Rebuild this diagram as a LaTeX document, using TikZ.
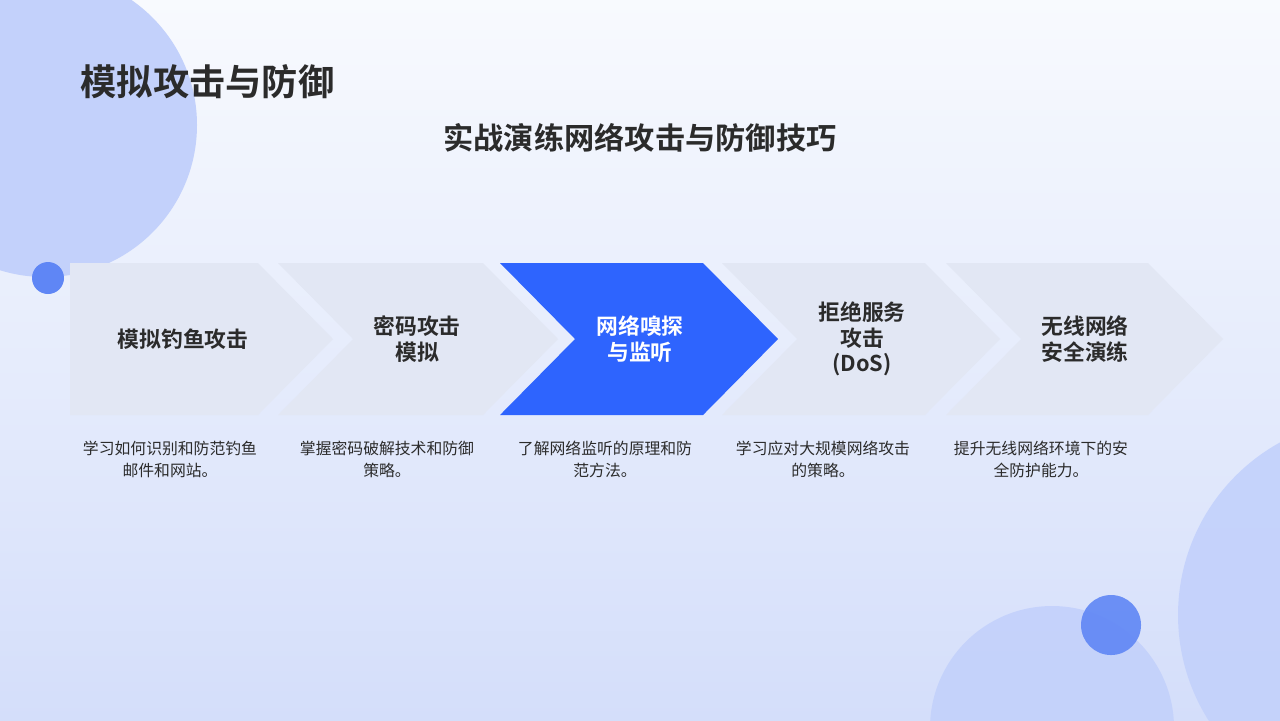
\documentclass[tikz,border=0pt]{standalone}
\usepackage{fontspec}
\setmainfont{Noto Sans CJK SC}
\newfontfamily\cjkbold{Noto Sans CJK SC Bold}
\usetikzlibrary{positioning}
\definecolor{bgtop}{HTML}{F8FAFE}
\definecolor{bgbot}{HTML}{D4DEFA}
\definecolor{blobc}{HTML}{C3D1FB}
\definecolor{dotc}{HTML}{5F86F5}
\definecolor{chevc}{HTML}{E2E7F4}
\definecolor{hotc}{HTML}{2E64FE}
\definecolor{inkc}{HTML}{2B2B2B}
\tikzset{
    steplabel/.style={font=\cjkbold\fontsize{6.2}{7.2}\selectfont, text=inkc, align=center},
    stepnote/.style={font=\fontsize{4.5}{6.3}\selectfont, text=inkc, align=center},
}
\begin{document}
\begin{tikzpicture}[x=0.01cm,y=-0.01cm]
    \shade[top color=bgtop, bottom color=bgbot] (0,0) rectangle (1280,720);
    \useasboundingbox (0,0) rectangle (1280,720);
    \begin{scope}
        \clip (0,0) rectangle (1280,720);
        \fill[blobc] (45,125) circle (152);
        \fill[blobc, opacity=0.9] (1375,615) circle (197);
        \fill[blobc, opacity=0.9] (1052,728) circle (122);
        \fill[dotc] (48,278) circle (16);
        \fill[dotc, opacity=0.9] (1111,625) circle (30);
    \end{scope}

    \node[anchor=west, inner sep=0pt, font=\cjkbold\fontsize{10.3}{12}\selectfont, text=inkc] (title) at (80,82) {模拟攻击与防御};
    \node[font=\cjkbold\fontsize{8.6}{10}\selectfont, text=inkc] (sub) at (640,138) {实战演练网络攻击与防御技巧};

    % chevrons
    \fill[chevc] (70,263) -- (258,263) -- (333,339) -- (258,415) -- (70,415) -- cycle;
    \fill[chevc] (278,263) -- (483,263) -- (558,339) -- (483,415) -- (278,415) -- (353,339) -- cycle;
    \fill[hotc] (500,263) -- (703,263) -- (778,339) -- (703,415) -- (500,415) -- (575,339) -- cycle;
    \fill[chevc] (722,263) -- (925,263) -- (1000,339) -- (925,415) -- (722,415) -- (797,339) -- cycle;
    \fill[chevc] (946,263) -- (1148,263) -- (1223,339) -- (1148,415) -- (946,415) -- (1021,339) -- cycle;

    \node[steplabel] (s1) at (183,339) {模拟钓鱼攻击};
    \node[steplabel] (s2) at (417,339) {密码攻击\\模拟};
    \node[steplabel, text=white] (s3) at (640,339) {网络嗅探\\与监听};
    \node[steplabel] (s4) at (862,339) {拒绝服务\\攻击\\(DoS)};
    \node[steplabel] (s5) at (1085,339) {无线网络\\安全演练};

    \node[stepnote] (n1) at (170,459) {学习如何识别和防范钓鱼\\邮件和网站。};
    \node[stepnote] (n2) at (387,459) {掌握密码破解技术和防御\\策略。};
    \node[stepnote] (n3) at (605,459) {了解网络监听的原理和防\\范方法。};
    \node[stepnote] (n4) at (823,459) {学习应对大规模网络攻击\\的策略。};
    \node[stepnote] (n5) at (1041,459) {提升无线网络环境下的安\\全防护能力。};
\end{tikzpicture}
\end{document}
